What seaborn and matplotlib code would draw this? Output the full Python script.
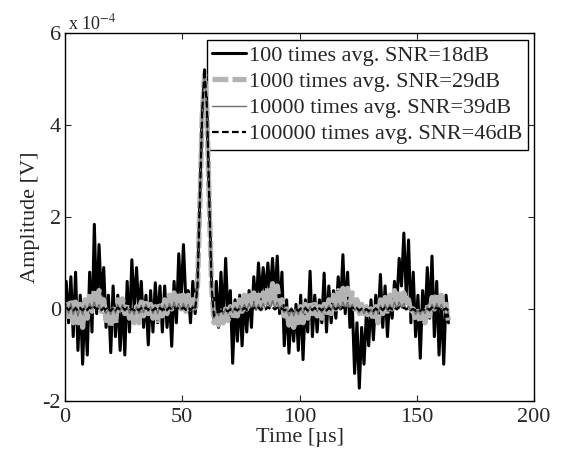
import numpy as np
import matplotlib
matplotlib.use("Agg")
import matplotlib.pyplot as plt
import seaborn as sns

# --- Data (amplitude in units of 1e-4 V, sampled every 1 us) ---
time_us = np.arange(164) + 0.5

avg_100 = [0.6, -0.3, 0.7, -0.6, 0.8, -0.9, 0.3, -1.2, 0.1, -1.0,
           0.8, -0.5, 1.84, -0.1, 1.4, 0.2, 0.9, -0.4, 0.3, -0.95,
           0.5, -0.6, 0.3, -0.9, 0.2, -1.0, 0.6, -0.5, 1.07, 0.0,
           0.9, -0.1, 0.6, -0.4, 0.3, -0.78, 0.4, -0.5, 0.57, -0.3,
           0.5, -0.5, 0.5, -0.4, 0.3, -0.81, 0.6, -0.3, 1.2, 0.2,
           1.4, 0.2, 0.4, -0.3, 0.6, -0.1, 0.6, 2.4, 4.3, 5.2,
           4.4, 2.4, 0.6, -0.3, 0.6, -0.4, 0.8, -0.3, 1.1, -0.2,
           0.4, -1.18, 0.2, -0.7, 0.3, -0.8, 0.2, -0.5, 0.4, -0.4,
           0.7, 0.0, 1.0, 0.2, 0.9, 0.3, 1.0, 0.3, 1.1, 0.2,
           1.15, -0.1, 0.8, -0.8, 0.2, -0.96, 0.0, -0.7, 0.1, -0.9,
           0.3, -1.1, 0.2, -0.5, 0.82, -0.6, 0.3, -0.5, 0.2, -0.3,
           0.78, -0.5, 0.5, -0.3, 0.4, -0.2, 0.7, 0.0, 1.18, -0.1,
           0.8, -0.4, 0.1, -1.4, -0.3, -1.72, -0.4, -1.2, -0.1, -0.8,
           0.2, -0.67, 0.3, -0.3, 0.75, -0.4, 0.5, -0.6, 0.3, -0.2,
           0.6, 0.1, 1.1, 0.5, 1.65, 0.3, 1.5, -0.3, 0.8, -0.6,
           0.3, -1.07, 0.4, -0.3, 0.9, -0.2, 1.15, -0.6, 0.6, -1.0,
           0.2, -1.2, 0.3, -0.3]

avg_1000 = [0.15, -0.25, 0.2, -0.3, 0.15, -0.3, 0.1, -0.4, 0.2, -0.2,
            0.35, -0.05, 0.42, 0.0, 0.4, -0.05, 0.2, -0.25, 0.0, -0.4,
            0.05, -0.35, 0.2, -0.1, 0.22, -0.1, 0.1, -0.2, 0.0, -0.3,
            0.05, -0.3, 0.15, -0.15, 0.2, -0.1, 0.1, -0.2, 0.05, -0.25,
            0.15, -0.15, 0.2, -0.1, 0.3, 0.0, 0.35, 0.05, 0.35, 0.0,
            0.3, -0.05, 0.3, 0.0, 0.2, -0.05, 0.5, 2.3, 4.2, 5.1,
            4.3, 2.3, 0.5, -0.3, -0.1, -0.35, -0.05, -0.3, 0.0, -0.25,
            0.05, -0.2, 0.1, -0.15, 0.2, -0.05, 0.3, 0.0, 0.35, 0.05,
            0.35, 0.05, 0.3, 0.0, 0.35, 0.05, 0.45, 0.1, 0.55, 0.15,
            0.5, 0.1, 0.2, -0.15, 0.0, -0.35, -0.05, -0.4, 0.0, -0.35,
            0.05, -0.3, 0.1, -0.2, 0.15, -0.1, 0.1, -0.15, 0.05, -0.2,
            0.1, -0.15, 0.2, -0.1, 0.3, 0.0, 0.4, 0.05, 0.45, 0.1,
            0.45, 0.1, 0.35, 0.0, 0.2, -0.1, 0.1, -0.15, 0.05, -0.2,
            0.0, -0.25, 0.05, -0.3, 0.2, -0.1, 0.25, -0.05, 0.3, 0.0,
            0.4, 0.05, 0.42, 0.1, 0.35, 0.05, 0.2, -0.1, 0.0, -0.25,
            -0.05, -0.3, -0.05, -0.3, 0.1, -0.15, 0.25, 0.0, 0.35, 0.05,
            0.3, -0.05, 0.1, -0.25]

avg_10000 = [0.1, -0.1, 0.12, -0.12, 0.05, -0.15, 0.05, -0.12, 0.08, -0.05,
             0.12, 0.0, 0.15, -0.02, 0.1, -0.05, 0.05, -0.1, 0.0, -0.12,
             0.05, -0.1, 0.1, -0.05, 0.1, -0.05, 0.05, -0.1, 0.0, -0.12,
             0.05, -0.1, 0.08, -0.08, 0.1, -0.05, 0.05, -0.1, 0.05, -0.1,
             0.08, -0.06, 0.1, -0.05, 0.12, -0.02, 0.15, 0.0, 0.12, -0.02,
             0.12, -0.03, 0.1, -0.05, 0.08, -0.03, 0.5, 2.35, 4.25, 5.15,
             4.35, 2.35, 0.5, -0.2, -0.05, -0.15, 0.0, -0.12, 0.02, -0.1,
             0.05, -0.08, 0.05, -0.06, 0.08, -0.05, 0.1, -0.02, 0.12, 0.0,
             0.12, -0.02, 0.1, -0.03, 0.12, 0.0, 0.15, 0.02, 0.18, 0.02,
             0.15, 0.0, 0.08, -0.08, 0.0, -0.15, -0.02, -0.15, 0.0, -0.12,
             0.03, -0.1, 0.05, -0.08, 0.06, -0.05, 0.05, -0.06, 0.03, -0.08,
             0.05, -0.06, 0.08, -0.04, 0.1, -0.02, 0.12, 0.0, 0.15, 0.02,
             0.15, 0.0, 0.1, -0.03, 0.05, -0.08, 0.03, -0.1, 0.0, -0.1,
             0.0, -0.12, 0.03, -0.1, 0.08, -0.05, 0.1, -0.03, 0.1, -0.02,
             0.15, 0.0, 0.15, 0.02, 0.12, 0.0, 0.06, -0.05, 0.0, -0.12,
             -0.02, -0.12, 0.0, -0.1, 0.05, -0.06, 0.1, -0.02, 0.12, 0.0,
             0.1, -0.03, 0.04, -0.1]

avg_100000 = [0.03, -0.02, 0.03, -0.03, 0.02, -0.04, 0.02, -0.03, 0.03, -0.02,
              0.04, -0.01, 0.04, -0.01, 0.03, -0.02, 0.02, -0.03, 0.01, -0.04,
              0.02, -0.03, 0.03, -0.02, 0.03, -0.02, 0.02, -0.03, 0.01, -0.03,
              0.02, -0.03, 0.02, -0.02, 0.03, -0.02, 0.02, -0.03, 0.02, -0.03,
              0.02, -0.02, 0.03, -0.02, 0.03, -0.01, 0.04, -0.01, 0.03, -0.01,
              0.03, -0.02, 0.03, -0.02, 0.03, -0.01, 0.5, 2.4, 4.3, 5.2,
              4.4, 2.4, 0.5, -0.15, -0.06, -0.07, -0.04, -0.06, -0.03, -0.05,
              -0.01, -0.04, 0.0, -0.03, 0.01, -0.02, 0.02, -0.02, 0.03, -0.01,
              0.03, -0.01, 0.03, -0.02, 0.03, -0.01, 0.04, 0.0, 0.04, -0.01,
              0.03, -0.01, 0.01, -0.03, 0.0, -0.05, -0.01, -0.05, 0.0, -0.04,
              0.01, -0.03, 0.02, -0.03, 0.02, -0.02, 0.02, -0.03, 0.01, -0.03,
              0.02, -0.03, 0.02, -0.02, 0.03, -0.01, 0.03, -0.01, 0.04, 0.0,
              0.04, -0.01, 0.03, -0.02, 0.01, -0.03, 0.0, -0.04, 0.0, -0.04,
              -0.01, -0.04, 0.01, -0.03, 0.02, -0.02, 0.03, -0.02, 0.03, -0.01,
              0.04, -0.01, 0.04, 0.0, 0.03, -0.01, 0.02, -0.02, 0.0, -0.04,
              -0.01, -0.04, 0.0, -0.03, 0.01, -0.02, 0.03, -0.01, 0.03, -0.01,
              0.03, -0.02, 0.01, -0.03]

labels = ["100 times avg. SNR=18dB", "1000 times avg. SNR=29dB",
          "10000 times avg. SNR=39dB", "100000 times avg. SNR=46dB"]

# --- Style ---
sns.set_style("ticks")
plt.rcParams['font.family'] = ['Liberation Serif', 'DejaVu Serif']
plt.rcParams['mathtext.fontset'] = 'stix'
plt.rcParams['axes.unicode_minus'] = False
FS = 16

fig = plt.figure(figsize=(5.63, 4.55), dpi=100)
ax = fig.add_axes([0.1155, 0.1187, 0.833, 0.8088])

sns.lineplot(x=time_us, y=avg_100, color='black', lw=2.2, label=labels[0], ax=ax)
sns.lineplot(x=time_us, y=avg_1000, color='#b3b3b3', lw=3.8, dashes=(3, 0.8),
             label=labels[1], ax=ax)
sns.lineplot(x=time_us, y=avg_10000, color='#6f6f6f', lw=1.0, label=labels[2], ax=ax)
sns.lineplot(x=time_us, y=avg_100000, color='black', lw=1.6, dashes=(3, 1.5),
             label=labels[3], ax=ax)

ax.set_xlim(0, 200)
ax.set_ylim(-2, 6)
ax.set_xticks([0, 50, 100, 150, 200])
ax.set_yticks([-2, 0, 2, 4, 6])
ax.set_xlabel('Time [µs]', fontsize=FS, labelpad=1)
ax.set_ylabel('Amplitude [V]', fontsize=FS, labelpad=2)
ax.tick_params(direction='in', top=True, right=True, length=4, width=0.8,
               labelsize=FS)
ax.tick_params(axis='x', pad=5)
ax.tick_params(axis='y', pad=3)
for s in ax.spines.values():
    s.set_linewidth(1.0)
    s.set_color('black')

ax.annotate(r'x 10$^{-4}$', xy=(0.006, 1.0), xycoords='axes fraction',
            ha='left', va='bottom', fontsize=13)

leg = ax.legend(loc='upper right', bbox_to_anchor=(0.987, 0.981), borderaxespad=0,
                fontsize=FS, frameon=True, fancybox=False, framealpha=1,
                edgecolor='black', handlelength=1.5, handletextpad=0.15,
                labelspacing=0.25, borderpad=0.25)
leg.get_frame().set_linewidth(1.0)
leg.set_zorder(1)
for line in ax.get_lines():
    line.set_zorder(2)

fig.savefig('out.png', dpi=100)
